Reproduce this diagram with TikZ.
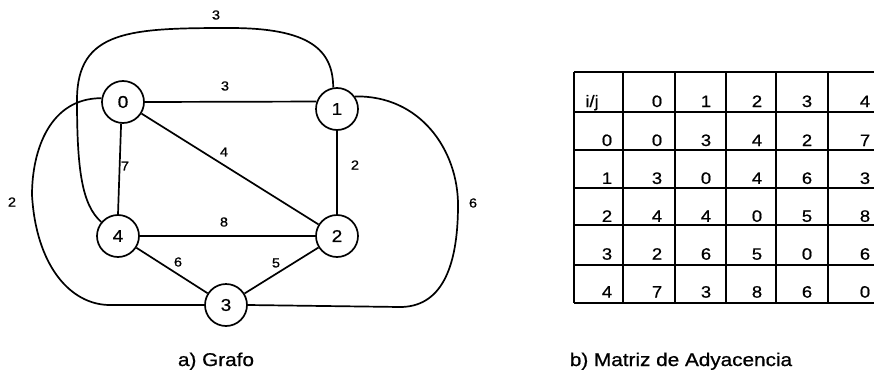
\documentclass[tikz,border=0pt]{standalone}
\usepackage{fontspec}
\setmainfont{Liberation Sans}
\newfontfamily\scanfont[FakeStretch=1.12,FakeBold=0.8]{Liberation Sans}
\usetikzlibrary{positioning,calc}

\begin{document}
\begin{tikzpicture}[x=1pt, y=-1pt, line join=round, line width=1.7pt,
  vertex/.style={circle, draw, minimum size=42pt, inner sep=0pt, font=\scanfont\fontsize{17}{17}\selectfont},
  weight/.style={inner sep=0pt, font=\scanfont\fontsize{13}{13}\selectfont},
  cell/.style={inner sep=0pt, anchor=base, font=\scanfont\fontsize{16.5}{16.5}\selectfont},
  caption/.style={inner sep=0pt, anchor=base, font=\scanfont\fontsize{18.5}{18.5}\selectfont}]
\useasboundingbox (0,0) rectangle (874,369);

% vertices
\node[vertex] (v0) at (123,102) {0};
\node[vertex] (v1) at (337,109) {1};
\node[vertex] (v4) at (118,236) {4};
\node[vertex] (v2) at (337,236) {2};
\node[vertex] (v3) at (226,305) {3};

% straight edges
\draw (v0.east) -- (v1.160);
\draw (v0.265) -- (v4.north);
\draw (v1) -- (v2);
\draw (v4) -- (v2);
\draw (v0) -- (v2);
\draw (v4) -- (v3);
\draw (v2) -- (v3);

% outer edges
\draw (v1.100) .. controls (333,50) and (310,28) .. (230,28)
  .. controls (130,28) and (77,30) .. (77,100)
  .. controls (77,170) and (82,205) .. (v4.140);
\draw (v0.170) .. controls (50,98) and (32,150) .. (32,195)
  .. controls (36,265) and (70,305) .. (110,305) -- (v3.west);
\draw (v1.35) .. controls (420,95) and (458,150) .. (458,205)
  .. controls (458,270) and (440,307) .. (400,307) -- (v3.east);

% weights
\node[weight] (w14) at (216,15)  {3};
\node[weight] (w01) at (225,86)  {3};
\node[weight] (w02) at (224,152) {4};
\node[weight] (w04) at (125,166) {7};
\node[weight] (w12) at (355,165) {2};
\node[weight] (w42) at (224,222) {8};
\node[weight] (w43) at (178,262) {6};
\node[weight] (w23) at (276,263) {5};
\node[weight] (w03) at (12,202)  {2};
\node[weight] (w13) at (473,203) {6};

% adjacency table
\begin{scope}[line width=1.3pt]
\foreach \x in {574,623,675,726,776,828}
  \draw (\x,72) -- (\x,303);
\foreach \y in {72,112,150,188,225,265,303}
  \draw (574,\y) -- (874,\y);
\end{scope}
\node[cell] (hij) at (592,107) {i/j};
\foreach \v [count=\j] in {0,1,2,3,4} {
  \pgfmathsetmacro{\xx}{{607,657,706,757,807,865}[\j]}
  \node[cell] (h-\j) at (\xx,107) {\v};
}
\foreach \row [count=\i from 0] in {{0,0,3,4,2,7},{1,3,0,4,6,3},{2,4,4,0,5,8},{3,2,6,5,0,6},{4,7,3,8,6,0}} {
  \foreach \v [count=\j from 0] in \row {
    \pgfmathsetmacro{\xx}{{607,657,706,757,807,865}[\j]}
    \pgfmathsetmacro{\yy}{146+37.9*\i}
    \node[cell] (c-\i-\j) at (\xx,\yy) {\v};
  }
}

% captions
\node[caption] (capa) at (216,366) {a) Grafo};
\node[caption] (capb) at (681,366) {b) Matriz de Adyacencia};
\end{tikzpicture}
\end{document}
